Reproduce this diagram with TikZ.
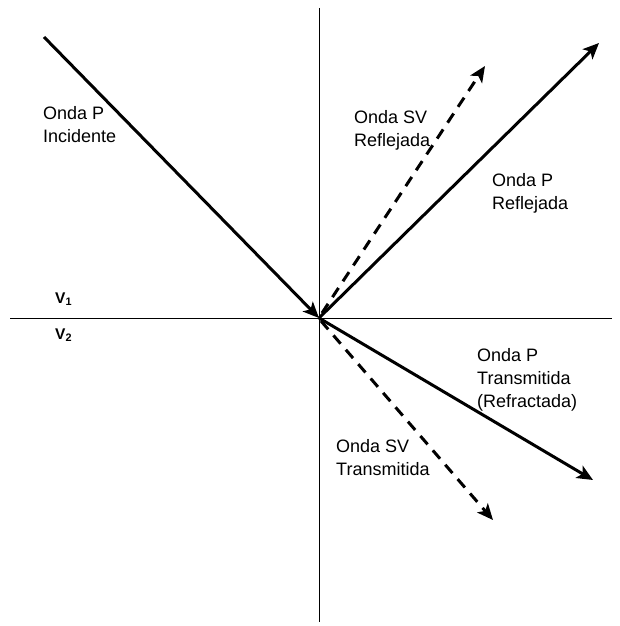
\documentclass[tikz,border=0pt]{standalone}
\usepackage{fontspec}
\setmainfont{Liberation Sans}
\usetikzlibrary{arrows.meta}
\begin{document}
\begin{tikzpicture}[x=1pt,y=-1pt,
  axisline/.style={line width=1pt},
  wave/.style={line width=3pt,-{Stealth[length=16pt,width=14pt,inset=4pt]}},
  dwave/.style={wave,dash pattern=on 11pt off 8pt},
  lbl/.style={anchor=north west,inner sep=0pt,align=left,font=\fontsize{18}{23}\selectfont},
  vlbl/.style={anchor=base west,inner sep=0pt,font=\fontsize{15.5}{18}\selectfont\bfseries}]
\useasboundingbox (0,0) rectangle (619,626);
\coordinate (O) at (319,318);
\coordinate (top) at (319,8);
\coordinate (bot) at (319,622);
\coordinate (lft) at (10,318);
\coordinate (rgt) at (612,318);
\coordinate (inc) at (44,37);
\coordinate (pr) at (599,43);
\coordinate (svr0) at (322,313);
\coordinate (svr) at (485,66);
\coordinate (pt) at (593,480);
\coordinate (svt0) at (321,321);
\coordinate (svt) at (493,520);
\draw[axisline] (top) -- (bot);
\draw[axisline] (lft) -- (rgt);
\draw[wave] (inc) -- (O);
\draw[wave] (O) -- (pr);
\draw[dwave] (svr0) -- (svr);
\draw[wave] (O) -- (pt);
\draw[dwave] (svt0) -- (svt);
\node[lbl] (linc) at (43,106.5) {Onda P\\Incidente};
\node[lbl] (lsvr) at (354,110) {Onda SV\\Reflejada};
\node[lbl] (lpr) at (492,173) {Onda P\\Reflejada};
\node[lbl] (lpt) at (477,348) {Onda P\\Transmitida\\(Refractada)};
\node[lbl] (lsvt) at (336,439) {Onda SV\\Transmitida};
\node[vlbl] (v1) at (55,303) {V\textsubscript{1}};
\node[vlbl] (v2) at (55,339) {V\textsubscript{2}};
\end{tikzpicture}
\end{document}
